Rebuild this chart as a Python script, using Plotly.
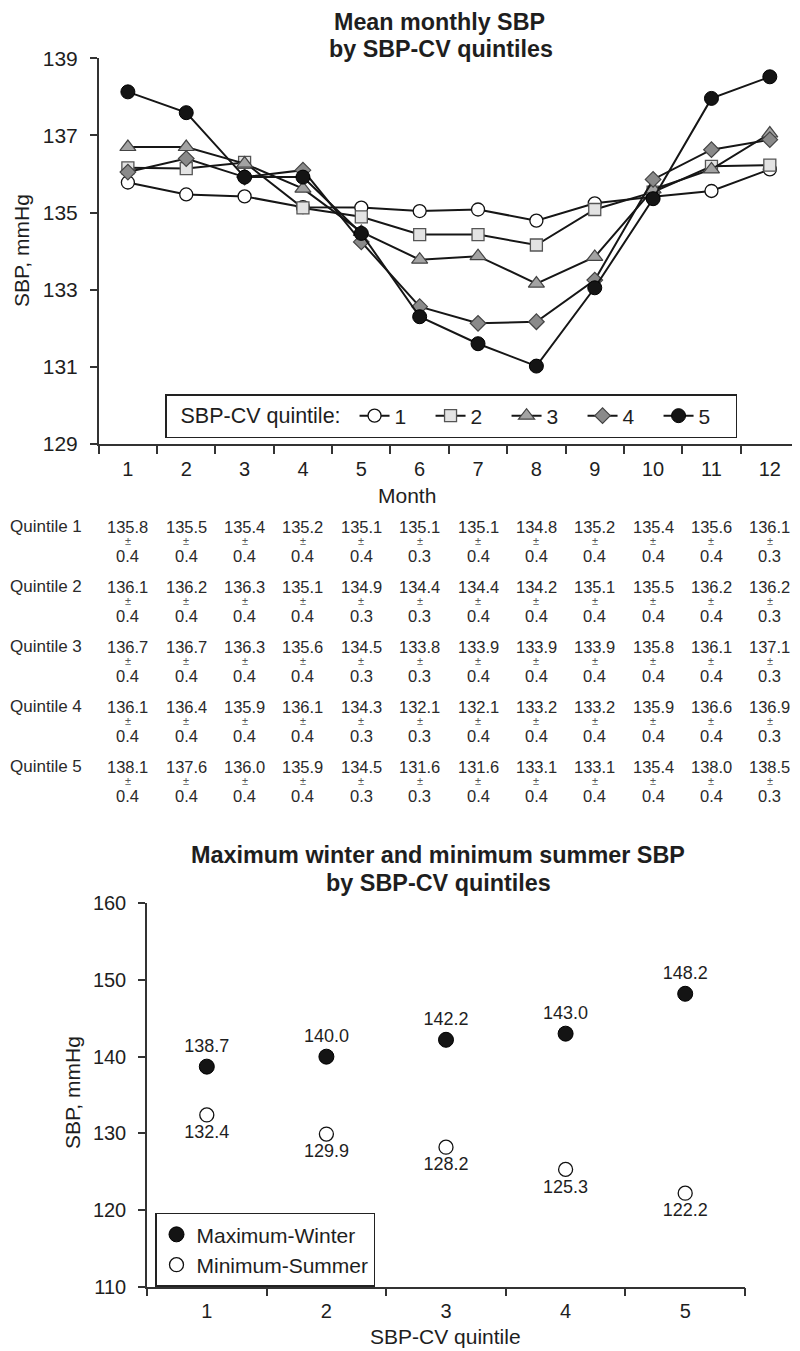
import plotly.graph_objects as go

# ---------------- data ----------------
months = list(range(1, 13))
month_labels = [str(m) for m in months]
quintile_ids = [1, 2, 3, 4, 5]

# plotted monthly mean SBP per SBP-CV quintile
q1_sbp = [135.78, 135.47, 135.42, 135.14, 135.13, 135.04, 135.08, 134.79, 135.24, 135.41, 135.56, 136.12]
q2_sbp = [136.16, 136.14, 136.30, 135.12, 134.89, 134.43, 134.43, 134.16, 135.08, 135.53, 136.20, 136.23]
q3_sbp = [136.70, 136.70, 136.27, 135.62, 134.50, 133.78, 133.87, 133.16, 133.85, 135.60, 136.12, 137.05]
q4_sbp = [136.05, 136.40, 135.92, 136.10, 134.24, 132.56, 132.13, 132.17, 133.25, 135.86, 136.63, 136.89]
q5_sbp = [138.13, 137.59, 135.92, 135.92, 134.46, 132.30, 131.60, 131.02, 133.05, 135.36, 137.96, 138.52]

# table values (mean ± SE) printed under the chart
tab_q1_mean = ["135.8", "135.5", "135.4", "135.2", "135.1", "135.1", "135.1", "134.8", "135.2", "135.4", "135.6", "136.1"]
tab_q2_mean = ["136.1", "136.2", "136.3", "135.1", "134.9", "134.4", "134.4", "134.2", "135.1", "135.5", "136.2", "136.2"]
tab_q3_mean = ["136.7", "136.7", "136.3", "135.6", "134.5", "133.8", "133.9", "133.9", "133.9", "135.8", "136.1", "137.1"]
tab_q4_mean = ["136.1", "136.4", "135.9", "136.1", "134.3", "132.1", "132.1", "133.2", "133.2", "135.9", "136.6", "136.9"]
tab_q5_mean = ["138.1", "137.6", "136.0", "135.9", "134.5", "131.6", "131.6", "133.1", "133.1", "135.4", "138.0", "138.5"]
tab_q1_se = ["0.4", "0.4", "0.4", "0.4", "0.4", "0.3", "0.4", "0.4", "0.4", "0.4", "0.4", "0.3"]
tab_q2_se = ["0.4", "0.4", "0.4", "0.4", "0.3", "0.3", "0.4", "0.4", "0.4", "0.4", "0.4", "0.3"]
tab_q3_se = ["0.4", "0.4", "0.4", "0.4", "0.3", "0.3", "0.4", "0.4", "0.4", "0.4", "0.4", "0.3"]
tab_q4_se = ["0.4", "0.4", "0.4", "0.4", "0.3", "0.3", "0.4", "0.4", "0.4", "0.4", "0.4", "0.3"]
tab_q5_se = ["0.4", "0.4", "0.4", "0.4", "0.3", "0.3", "0.4", "0.4", "0.4", "0.4", "0.4", "0.3"]
row_labels = ["Quintile 1", "Quintile 2", "Quintile 3", "Quintile 4", "Quintile 5"]

# bottom chart
cv_quintiles = [1, 2, 3, 4, 5]
max_winter = [138.7, 140.0, 142.2, 143.0, 148.2]
min_summer = [132.4, 129.9, 128.2, 125.3, 122.2]

# ---------------- styling ----------------
# the page body keeps an 8px margin, so the figure covers page pixels 8..800 x 8..1351
OFF = 8
W, H = 800 - OFF, 1351 - OFF
FONT = "Liberation Sans, Arial, sans-serif"
INK = "#1e1e1e"
TXT = "#2a2a2a"
NB = "\u00a0"


def px(p):  # page pixel column -> paper x
    return (p - OFF) / W


def py(p):  # page pixel row -> paper y
    return 1 - (p - OFF) / H


fig = go.Figure()

series = [q1_sbp, q2_sbp, q3_sbp, q4_sbp, q5_sbp]
styles = [
    dict(symbol="circle", size=13, color="white", line=dict(color="#111", width=1.3)),
    dict(symbol="square", size=12, color="#e3e3e3", line=dict(color="#555", width=1.3)),
    dict(symbol="triangle-up", size=14, color="#a3a3a3", line=dict(color="#444", width=1.2)),
    dict(symbol="diamond", size=12, color="#8a8a8a", line=dict(color="#444", width=1.2)),
    dict(symbol="circle", size=14, color="#141414", line=dict(color="#000", width=1)),
]
for q, vals, st in zip(quintile_ids, series, styles):
    fig.add_trace(go.Scatter(
        x=months, y=vals, mode="lines+markers", name=str(q),
        line=dict(color="#161616", width=2), marker=st,
        xaxis="x", yaxis="y", legend="legend", cliponaxis=False,
    ))

fig.add_trace(go.Scatter(
    x=cv_quintiles, y=max_winter, mode="markers+text", name="Maximum-Winter",
    text=[f"{v:.1f}" for v in max_winter], textposition="top center",
    textfont=dict(size=18, color=INK, family=FONT),
    marker=dict(symbol="circle", size=15, color="#141414", line=dict(color="#000", width=1)),
    xaxis="x2", yaxis="y2", legend="legend2", cliponaxis=False,
))
fig.add_trace(go.Scatter(
    x=cv_quintiles, y=min_summer, mode="markers+text", name="Minimum-Summer",
    text=[f"{v:.1f}" for v in min_summer], textposition="bottom center",
    textfont=dict(size=18, color=INK, family=FONT),
    marker=dict(symbol="circle", size=14, color="white", line=dict(color="#111", width=1.3)),
    xaxis="x2", yaxis="y2", legend="legend2", cliponaxis=False,
))


def note(text, x, y, size, bold=False, angle=0, color=INK):
    return dict(text=f"<b>{text}</b>" if bold else text, x=px(x), y=py(y), xref="paper", yref="paper",
                showarrow=False, xanchor="center", yanchor="middle", textangle=angle,
                font=dict(size=size, family=FONT, color=color))


annotations = [
    note("Mean monthly SBP", 440, 22, 23.3, bold=True),
    note("by SBP-CV quintiles", 441, 49, 23.3, bold=True),
    note("Maximum winter and minimum summer SBP", 438, 855, 23.4, bold=True),
    note("by SBP-CV quintiles", 438, 883, 23.4, bold=True),
    note("SBP, mmHg", 21, 251, 21, angle=-90),
    note("Month", 407, 495, 21),
    note("SBP, mmHg", 72, 1093, 21, angle=-90),
    note("SBP-CV quintile", 446, 1336, 21),
]

# table
tab_means = [tab_q1_mean, tab_q2_mean, tab_q3_mean, tab_q4_mean, tab_q5_mean]
tab_ses = [tab_q1_se, tab_q2_se, tab_q3_se, tab_q4_se, tab_q5_se]
for r, (lab, means, ses) in enumerate(zip(row_labels, tab_means, tab_ses), start=1):
    annotations.append(dict(text=lab, x=0, y=r, xref="paper", yref="y3", showarrow=False,
                            xanchor="left", yanchor="middle", font=dict(size=17, family=FONT, color=TXT)))
    for m, mv, sv in zip(months, means, ses):
        annotations.append(dict(text=mv, x=m, y=r, xref="x", yref="y3", showarrow=False,
                                xanchor="center", yanchor="middle", font=dict(size=16.5, family=FONT, color=TXT)))
        annotations.append(dict(text="±", x=m, y=r + 0.24, xref="x", yref="y3", showarrow=False,
                                xanchor="center", yanchor="middle", font=dict(size=11, family=FONT, color="#555")))
        annotations.append(dict(text=sv, x=m, y=r + 0.48, xref="x", yref="y3", showarrow=False,
                                xanchor="center", yanchor="middle", font=dict(size=16.5, family=FONT, color=TXT)))

axis_common = dict(showline=True, linecolor="#333", linewidth=1.5, showgrid=False, zeroline=False,
                   fixedrange=True)

fig.update_layout(
    width=W, height=H,
    margin=dict(l=0, r=0, t=0, b=0, autoexpand=False),
    paper_bgcolor="white", plot_bgcolor="white",
    font=dict(family=FONT, color=INK),
    showlegend=True,
    xaxis=dict(**axis_common, domain=[px(98.7), px(799)], range=[0.5, 12.5], anchor="y",
               tickmode="array", tickvals=months, ticktext=month_labels, ticks="",
               tickfont=dict(size=20, family=FONT, color=INK), ticklabelstandoff=6,
               minor=dict(tickmode="array", tickvals=[m - 0.5 for m in months] + [12.5],
                          ticks="outside", ticklen=8, tickwidth=1.5, tickcolor="#333")),
    yaxis=dict(**axis_common, domain=[py(444), py(58.3)], range=[129, 139], anchor="x",
               tickmode="array", tickvals=[129, 131, 133, 135, 137, 139],
               tickfont=dict(size=21, family=FONT, color=INK),
               ticks="outside", ticklen=7, tickwidth=1.5, tickcolor="#333", ticklabelstandoff=8),
    yaxis3=dict(domain=[py(796.7), py(496.7)], range=[5.5, 0.5], anchor="x", visible=False,
                fixedrange=True),
    xaxis2=dict(**axis_common, domain=[px(147), px(745)], range=[0.5, 5.5], anchor="y2",
                tickmode="array", tickvals=cv_quintiles, ticktext=[str(q) for q in cv_quintiles], ticks="",
                tickfont=dict(size=20, family=FONT, color=INK), ticklabelstandoff=6,
                minor=dict(tickmode="array", tickvals=[q - 0.5 for q in cv_quintiles] + [5.5],
                           ticks="outside", ticklen=8, tickwidth=1.5, tickcolor="#333")),
    yaxis2=dict(**axis_common, domain=[py(1286.7), py(903.3)], range=[110, 160], anchor="x2",
                tickmode="array", tickvals=[110, 120, 130, 140, 150, 160],
                tickfont=dict(size=20, family=FONT, color=INK),
                ticks="outside", ticklen=7, tickwidth=1.5, tickcolor="#333", ticklabelstandoff=8),
    legend=dict(orientation="h", x=px(165), y=py(394), xanchor="left", yanchor="top",
                bgcolor="white", bordercolor="#222", borderwidth=1.5,
                title=dict(text=f"{NB}{NB}SBP-CV quintile:{NB}", side="left",
                           font=dict(size=21.5, family=FONT, color=INK)),
                font=dict(size=21, family=FONT, color=INK), itemwidth=30,
                entrywidth=31, entrywidthmode="pixels", tracegroupgap=0),
    legend2=dict(orientation="v", x=px(155), y=py(1212.7), xanchor="left", yanchor="top",
                 bgcolor="white", bordercolor="#222", borderwidth=1.5,
                 font=dict(size=21, family=FONT, color=INK), itemwidth=30,
                 entrywidth=182, entrywidthmode="pixels"),
    annotations=annotations,
)

fig.write_html("out.html")
